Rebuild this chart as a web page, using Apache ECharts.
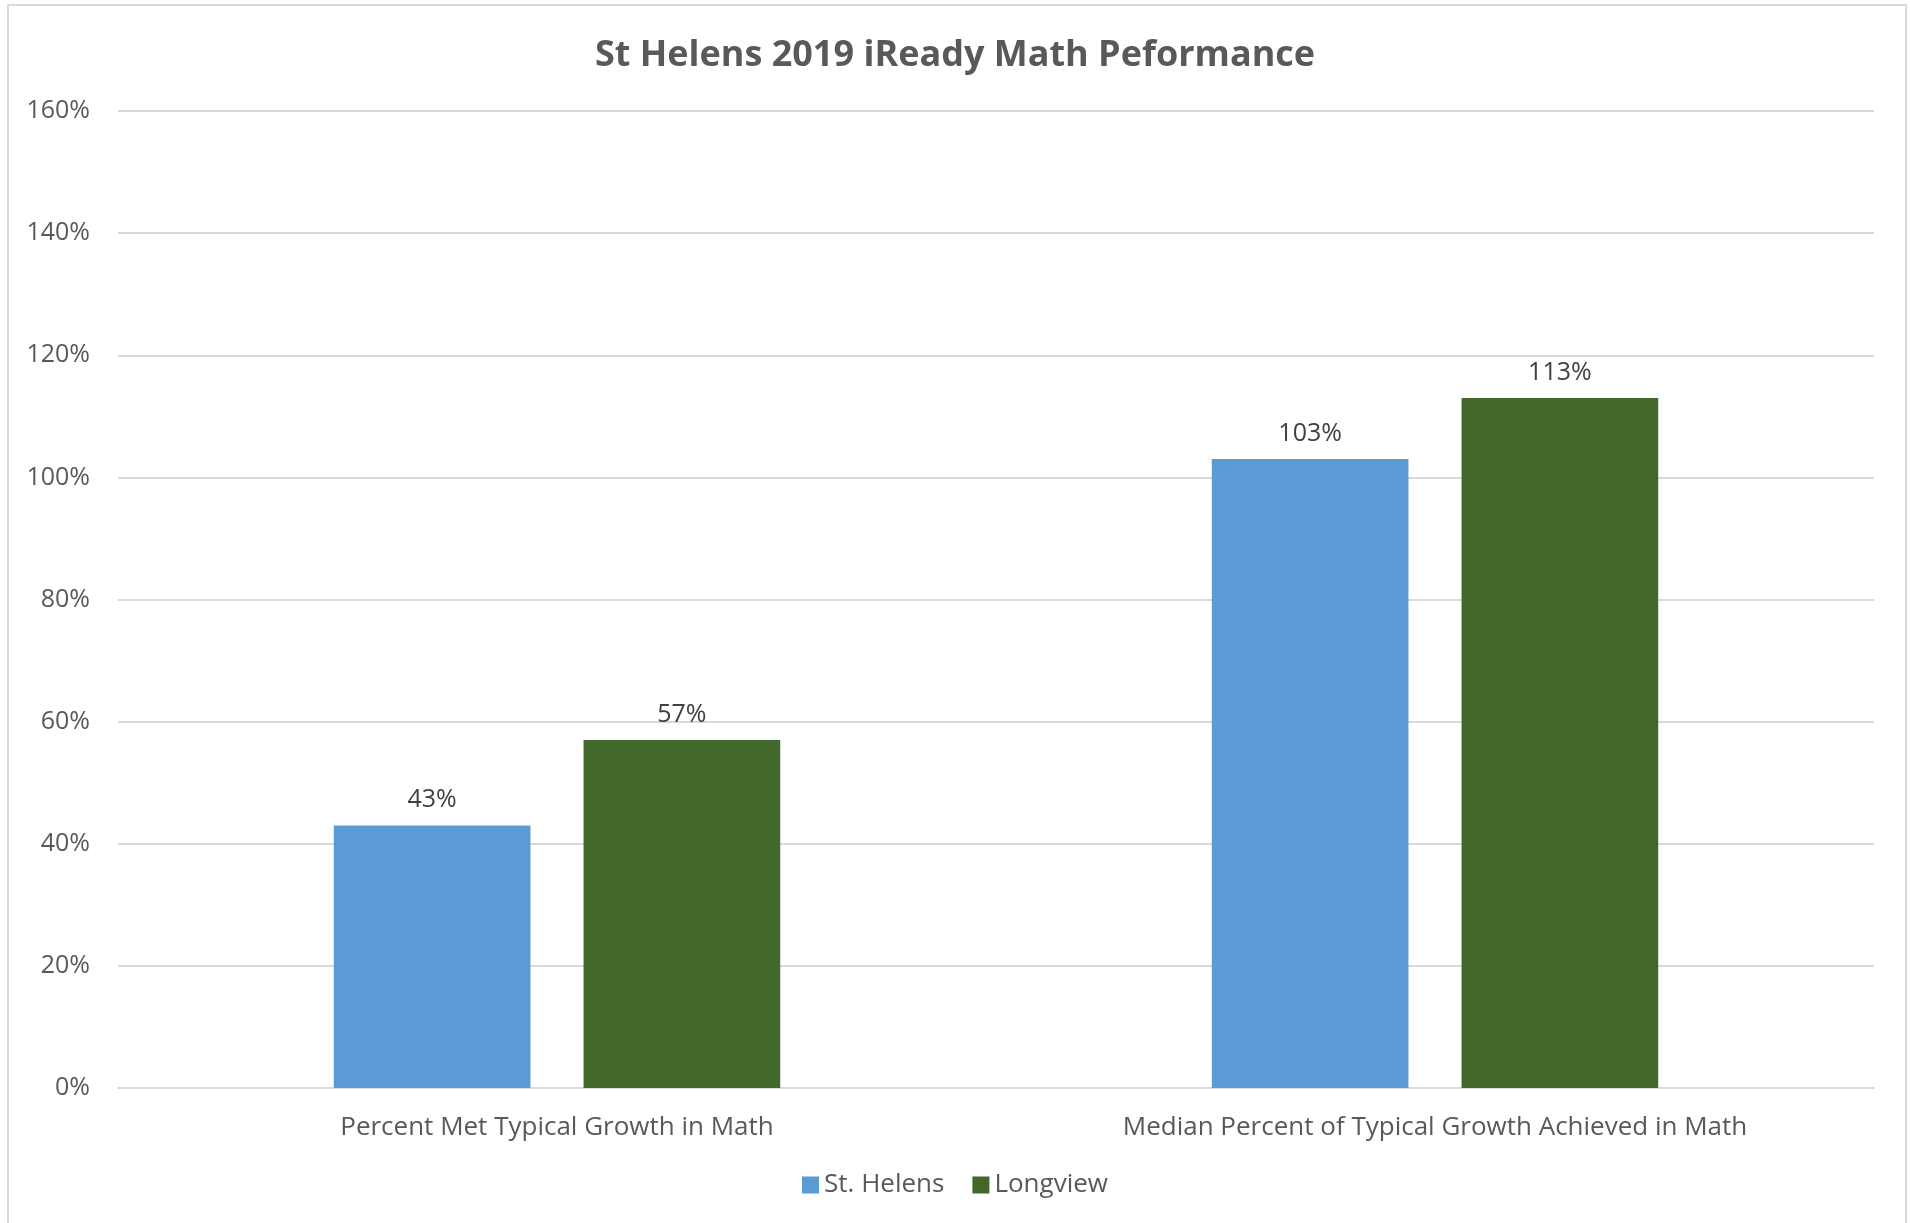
<!DOCTYPE html>
<html><head><meta charset="utf-8">
<script src="https://cdn.jsdelivr.net/npm/echarts@6/dist/echarts.min.js"></script>
<style>html,body{margin:0;padding:0;background:#fff}#c{width:1910px;height:1223px}</style>
</head><body><div id="c"></div>
<script>
const categories = ['Percent Met Typical Growth in Math', 'Median Percent of Typical Growth Achieved in Math'];
const stHelens = [0.43, 1.03];
const longview = [0.57, 1.13];
const yTicks = [0, 0.2, 0.4, 0.6, 0.8, 1.0, 1.2, 1.4, 1.6];
const font = 'Open Sans';
const chart = echarts.init(document.getElementById('c'));
const pct = v => Math.round(v * 100) + '%';
chart.setOption({
  animation: false,
  textStyle: { fontFamily: font },
  graphic: [{ type: 'rect', shape: { x: 8, y: 5, width: 1898, height: 1222 }, style: { fill: 'none', stroke: '#d9d9d9', lineWidth: 2 }, silent: true }],
  title: { text: 'St Helens 2019 iReady Math Peformance', left: 'center', top: 33,
    textStyle: { fontFamily: font, fontWeight: 'bold', fontSize: 36, color: '#595959' } },
  legend: { bottom: 20, left: 'center', itemWidth: 17, itemHeight: 17, itemGap: 28, icon: 'rect',
    textStyle: { fontFamily: font, fontSize: 26, color: '#595959' } },
  grid: { left: 118, right: 36, top: 111, bottom: 135, containLabel: false },
  xAxis: { type: 'category', data: categories,
    axisLine: { lineStyle: { color: '#d9d9d9', width: 2 } }, axisTick: { show: false },
    axisLabel: { fontFamily: font, fontSize: 26, color: '#595959', margin: 27 } },
  yAxis: { type: 'value', min: 0, max: 1.6, interval: 0.2,
    axisLine: { show: false }, axisTick: { show: false },
    splitLine: { lineStyle: { color: '#d9d9d9', width: 2 } },
    axisLabel: { fontFamily: font, fontSize: 25, color: '#595959', margin: 28, padding: [4, 0, 0, 0], formatter: v => pct(v) } },
  series: [
    { name: 'St. Helens', type: 'bar', data: stHelens, barWidth: '22.4%', barGap: '27%',
      itemStyle: { color: '#5b9bd5' },
      label: { show: true, position: 'top', distance: 13, formatter: p => pct(p.value), fontFamily: font, fontSize: 25, color: '#404040' } },
    { name: 'Longview', type: 'bar', data: longview, barWidth: '22.4%',
      itemStyle: { color: '#43682b' },
      label: { show: true, position: 'top', distance: 13, formatter: p => pct(p.value), fontFamily: font, fontSize: 25, color: '#404040' } }
  ]
});
</script></body></html>
